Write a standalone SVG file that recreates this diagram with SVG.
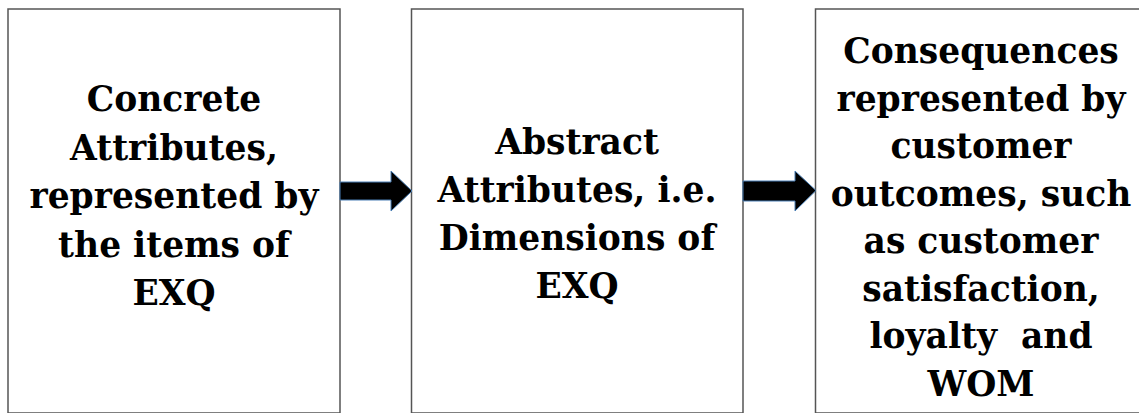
<svg xmlns="http://www.w3.org/2000/svg" width="1139" height="413" viewBox="0 0 1139 413">
<style>
.box{fill:#fff;stroke:#555;stroke-width:1.5}
.t{font-family:"DejaVu Serif","Liberation Serif",serif;font-weight:bold;font-size:34.5px;fill:#000;text-anchor:middle}
.arr{fill:#000;stroke:#4a7fb5;stroke-width:1;stroke-linejoin:miter}
</style>
<rect width="1139" height="413" fill="#fff"/>
<g id="node-concrete">
<rect class="box" x="8" y="9" width="332" height="404"/>
<text class="t"><tspan x="174" y="111">Concrete</tspan><tspan x="174" y="159.5">Attributes,</tspan><tspan x="174" y="208">represented by</tspan><tspan x="174" y="256.5">the items of</tspan><tspan x="174" y="305">EXQ</tspan></text>
</g>
<g id="node-abstract">
<rect class="box" x="411.5" y="9" width="331.5" height="404"/>
<text class="t"><tspan x="577" y="154">Abstract</tspan><tspan x="577" y="202">Attributes, i.e.</tspan><tspan x="577" y="250">Dimensions of</tspan><tspan x="577" y="298">EXQ</tspan></text>
</g>
<g id="node-consequences">
<rect class="box" x="815.5" y="9" width="330" height="404"/>
<text class="t"><tspan x="981" y="63">Consequences</tspan><tspan x="981" y="110.5">represented by</tspan><tspan x="981" y="158">customer</tspan><tspan x="981" y="205.5">outcomes, such</tspan><tspan x="981" y="253">as customer</tspan><tspan x="981" y="300.5">satisfaction,</tspan><tspan x="981" y="348">loyalty&#160; and</tspan><tspan x="981" y="395.5">WOM</tspan></text>
</g>
<g id="connectors">
<path class="arr" d="M340,182 H391 V171 L412,191 L391,211 V200 H340 Z"/>
<path class="arr" d="M743,181 H795 V171 L816,190.5 L795,211 V201 H743 Z"/>
</g>
</svg>
